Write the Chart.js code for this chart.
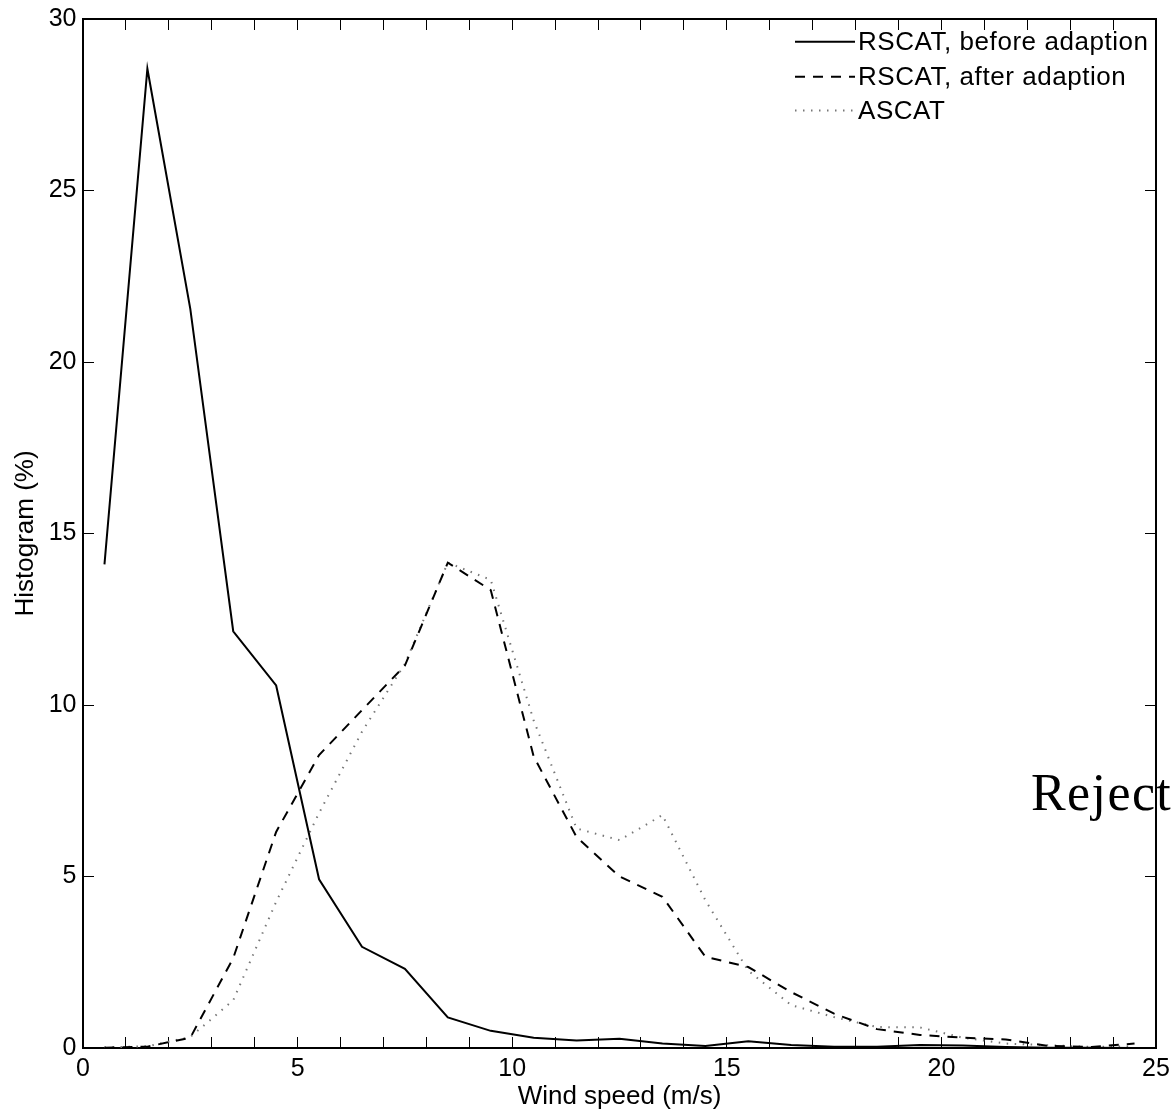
<!DOCTYPE html>
<html>
<head>
<meta charset="utf-8">
<script src="https://cdn.jsdelivr.net/npm/chart.js@4/dist/chart.umd.min.js"></script>
<style>
  html, body { margin: 0; padding: 0; background: #fff; }
  canvas { display: block; }
</style>
</head>
<body>
<canvas id="histChart" width="1171" height="1114"></canvas>
<script>
// bin centres (m/s)
const windSpeed = [0.5, 1.5, 2.5, 3.5, 4.5, 5.5, 6.5, 7.5, 8.5, 9.5, 10.5, 11.5, 12.5,
  13.5, 14.5, 15.5, 16.5, 17.5, 18.5, 19.5, 20.5, 21.5, 22.5, 23.5, 24.5];

// histogram values (%)
const rscatBefore = [14.1, 28.55, 21.55, 12.15, 10.57, 4.92, 2.95, 2.31, 0.89, 0.5, 0.3, 0.22, 0.27,
  0.13, 0.06, 0.2, 0.09, 0.04, 0.04, 0.09, 0.07, 0.03, 0.01, 0.01, 0.0];
const rscatAfter = [0.01, 0.04, 0.3, 2.62, 6.3, 8.54, 9.85, 11.15, 14.15, 13.35, 8.5, 6.15, 5.0,
  4.41, 2.66, 2.36, 1.63, 1.0, 0.55, 0.38, 0.3, 0.25, 0.06, 0.03, 0.13];
const ascat = [0.02, 0.05, 0.32, 1.39, 4.26, 6.85, 9.22, 11.2, 14.15, 13.65, 9.55, 6.4, 6.06,
  6.79, 4.31, 2.25, 1.25, 0.9, 0.61, 0.6, 0.3, 0.13, 0.08, 0.03, 0.05];

const xTicksLabelled = [0, 5, 10, 15, 20, 25];
const seriesNames = ["RSCAT, before adaption", "RSCAT, after adaption", "ASCAT"];

const FONT = "'Liberation Sans', Arial, Helvetica, sans-serif";

function pts(ys) {
  const out = [];
  for (let i = 0; i < windSpeed.length; i++) out.push({ x: windSpeed[i], y: ys[i] });
  return out;
}

const lineStyles = [
  { color: "#000", width: 2, dash: [] },
  { color: "#000", width: 2, dash: [10, 8] },
  { color: "#777", width: 2, dash: [1.5, 6.5] }
];

// legend drawn in the upper right corner, no box
const cornerLegend = {
  id: "cornerLegend",
  afterDraw(chart) {
    const ctx = chart.ctx;
    const rows = [41.7, 76.7, 110.5];
    ctx.save();
    ctx.font = "26px " + FONT;
    ctx.letterSpacing = "0.55px";
    ctx.fillStyle = "#000";
    ctx.textBaseline = "middle";
    seriesNames.forEach((name, i) => {
      const st = lineStyles[i];
      ctx.beginPath();
      ctx.strokeStyle = st.color;
      ctx.lineWidth = st.width;
      ctx.setLineDash(st.dash);
      ctx.moveTo(795, rows[i]);
      ctx.lineTo(855, rows[i]);
      ctx.stroke();
      ctx.setLineDash([]);
      ctx.fillText(name, 858, rows[i] + 1);
    });
    ctx.restore();
  }
};

// stray serif annotation on the right edge
const sideNote = {
  id: "sideNote",
  afterDraw(chart) {
    const ctx = chart.ctx;
    ctx.save();
    ctx.font = "52px 'Liberation Serif', 'Times New Roman', serif";
    ctx.letterSpacing = "1.4px";
    ctx.fillStyle = "#000";
    ctx.textBaseline = "alphabetic";
    ctx.fillText("Reject", 1031, 810);
    ctx.restore();
  }
};

const tickFont = { family: FONT, size: 25 };
const titleFont = { family: FONT, size: 26 };

// keep tick label overhang from pushing the plot frame inwards
function noOverhang(s) {
  s.paddingLeft = 0; s.paddingRight = 0; s.paddingTop = 0; s.paddingBottom = 0;
}

new Chart(document.getElementById("histChart"), {
  type: "line",
  data: {
    datasets: [
      { label: seriesNames[0], data: pts(rscatBefore) },
      { label: seriesNames[1], data: pts(rscatAfter) },
      { label: seriesNames[2], data: pts(ascat) }
    ].map((d, i) => Object.assign(d, {
      borderColor: lineStyles[i].color,
      borderWidth: lineStyles[i].width,
      borderDash: lineStyles[i].dash,
      pointRadius: 0,
      tension: 0,
      fill: false
    }))
  },
  options: {
    responsive: false,
    animation: false,
    devicePixelRatio: 1,
    layout: { padding: { top: 19, right: 15, left: 0, bottom: 0 } },
    plugins: { legend: { display: false }, tooltip: { enabled: false } },
    scales: {
      x: {
        type: "linear", position: "bottom", min: 0, max: 25,
        ticks: {
          stepSize: 1, autoSkip: false, maxRotation: 0, padding: 17,
          color: "#000", font: tickFont,
          callback: v => xTicksLabelled.includes(v) ? String(v) : ""
        },
        grid: { drawOnChartArea: false, tickLength: -11, color: "#000", lineWidth: 1 },
        border: { color: "#000", width: 2 },
        title: { display: true, text: "Wind speed (m/s)", color: "#000", font: titleFont, padding: { top: 0, bottom: 2 } },
        afterFit: s => { s.height = 66; noOverhang(s); }
      },
      y: {
        type: "linear", position: "left", min: 0, max: 30,
        ticks: { stepSize: 5, padding: 17.5, color: "#000", font: tickFont },
        grid: { drawOnChartArea: false, tickLength: -11, color: "#000", lineWidth: 1 },
        border: { color: "#000", width: 2 },
        title: { display: true, text: "Histogram (%)", color: "#000", font: titleFont, padding: { top: 10, bottom: 0 } },
        afterFit: s => { s.width = 83; noOverhang(s); }
      },
      xTop: {
        type: "linear", position: "top", min: 0, max: 25,
        ticks: { stepSize: 1, autoSkip: false, callback: () => "" },
        grid: { drawOnChartArea: false, tickLength: -11, color: "#000", lineWidth: 1 },
        border: { color: "#000", width: 2 },
        afterFit: s => { s.height = 0; noOverhang(s); }
      },
      yRight: {
        type: "linear", position: "right", min: 0, max: 30,
        ticks: { stepSize: 5, callback: () => "" },
        grid: { drawOnChartArea: false, tickLength: -11, color: "#000", lineWidth: 1 },
        border: { color: "#000", width: 2 },
        afterFit: s => { s.width = 0; noOverhang(s); }
      }
    }
  },
  plugins: [cornerLegend, sideNote]
});
</script>
</body>
</html>
